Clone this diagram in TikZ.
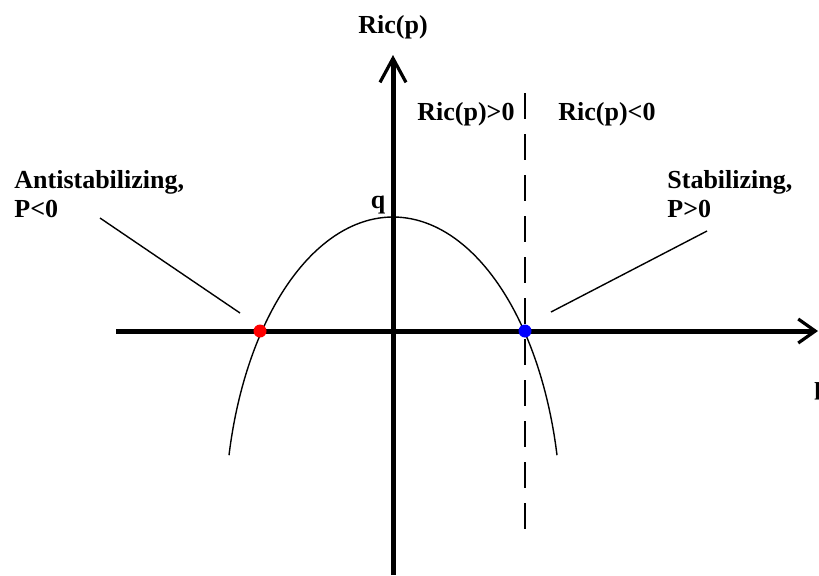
\documentclass[tikz,border=0pt]{standalone}
\usepackage{fontspec}
\setmainfont{Liberation Serif}
\usetikzlibrary{arrows.meta}

\begin{document}
\begin{tikzpicture}[x=0.5pt,y=-0.5pt,
    lbl/.style={font=\bfseries\fontsize{13}{14.5}\selectfont,inner sep=0pt},
    axis/.style={line width=2.5pt},
    leader/.style={line width=0.7pt},
    root/.style={circle,inner sep=0pt,minimum size=6.5pt}]
  \useasboundingbox (0,0) rectangle (819,575);
  % axes
  \coordinate (xs) at (116,331); \coordinate (xe) at (818,331);
  \coordinate (ys) at (393,575); \coordinate (ye) at (393,55);
  \draw[axis,-{Straight Barb[length=8.5pt,width=12pt,line width=1.6pt]}] (xs) -- (xe);
  \draw[axis,-{Straight Barb[length=12pt,width=13pt,line width=1.6pt]}] (ys) -- (ye);
  \node[lbl,anchor=base] (ric) at (393,33) {Ric(p)};
  \node[lbl,anchor=base west] (pax) at (814,394) {p};
  % boundary Ric(p)=0
  \coordinate (dtop) at (525,93); \coordinate (dbot) at (525,531);
  \draw[line width=1pt,dash pattern=on 13pt off 7.5pt] (dtop) -- (dbot);
  \node[lbl,anchor=base west] (rpos) at (417,120) {Ric(p)>0};
  \node[lbl,anchor=base west] (rneg) at (558,120) {Ric(p)<0};
  % Ric curve
  \draw[line width=0.7pt] plot[domain=12.5:167.5,samples=80,smooth]
    ({393+168*cos(\x)},{521-304*sin(\x)});
  \node[lbl,anchor=base] (q) at (378,208) {q};
  % roots
  \node[root,fill=red] (neg) at (260,331) {};
  \node[root,fill=blue] (pos) at (525,331) {};
  \node[lbl,anchor=base west,align=left] (anti) at (14,217) {Antistabilizing,\\P<0};
  \node[lbl,anchor=base west,align=left] (stab) at (667,217) {Stabilizing,\\P>0};
  \coordinate (a1) at (100,218); \coordinate (a2) at (240,313);
  \coordinate (s1) at (707,231); \coordinate (s2) at (551,312);
  \draw[leader] (a1) -- (a2);
  \draw[leader] (s1) -- (s2);
\end{tikzpicture}
\end{document}
